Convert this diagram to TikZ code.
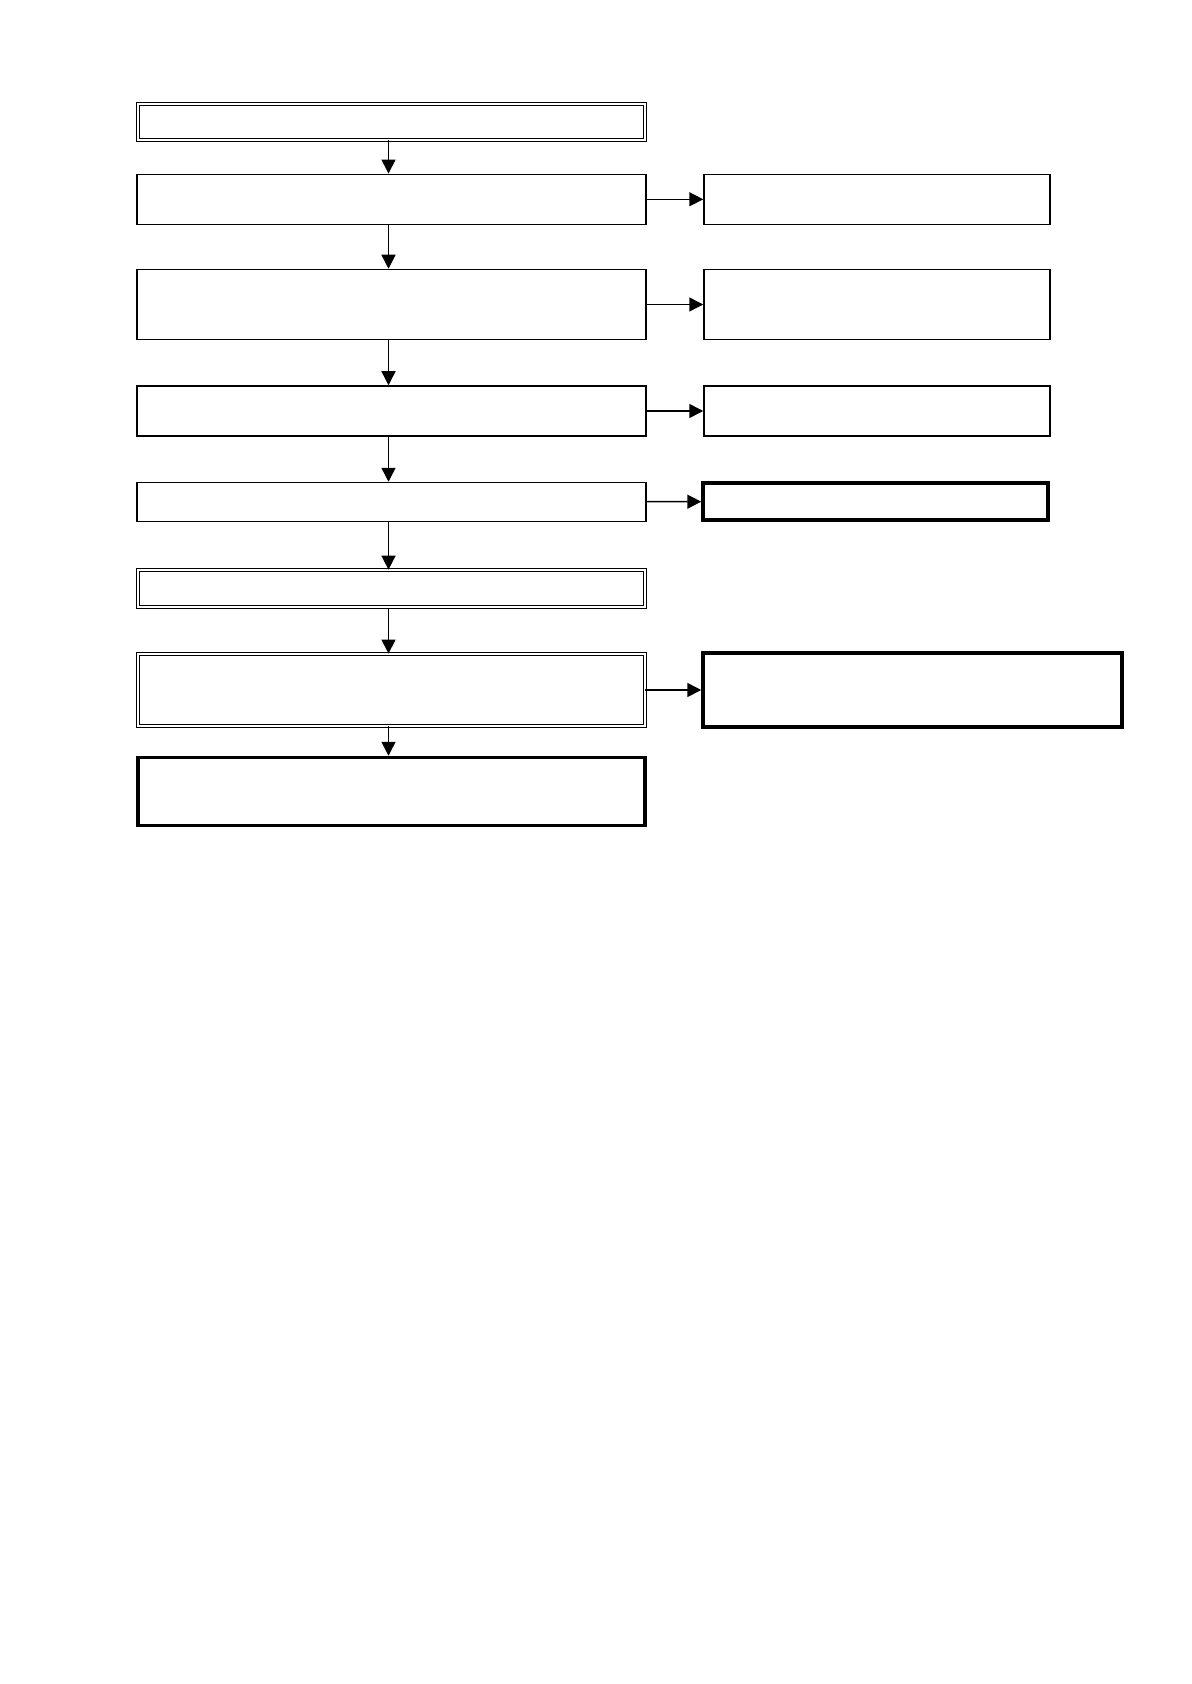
\documentclass[tikz,border=0pt]{standalone}
\usetikzlibrary{arrows.meta}
\begin{document}
\begin{tikzpicture}[x=0.5pt,y=-0.5pt,
  box/.style={draw,line width=0.75pt,inner sep=0pt,minimum width=#1},
  box/.default=254.5pt,
  dbox/.style={draw,double,line width=0.45pt,double distance=1pt,inner sep=0pt,minimum width=253.5pt},
  tbox/.style={draw,line width=1.75pt,inner sep=0pt,minimum width=#1},
  tbox/.default=253.5pt,
  arr/.style={line width=0.75pt,-{Triangle[length=7pt,width=7pt]}}]
\useasboundingbox (0,0) rectangle (1191,1684);
\node[dbox,minimum height=18pt] (start) at (391.5,122) {};
\node[box,minimum height=25pt] (s1) at (391.5,199.3) {};
\node[box,minimum height=35pt] (s2) at (391.5,304.5) {};
\node[box,minimum height=25pt] (s3) at (391.5,411) {};
\node[box,minimum height=19.5pt] (s4) at (391.5,502) {};
\node[dbox,minimum height=18.5pt] (s5) at (391.5,588.6) {};
\node[dbox,minimum height=36pt] (s6) at (391.5,690) {};
\node[tbox,minimum height=34pt] (s7) at (391.5,791.5) {};
\node[box=173pt,minimum height=25pt] (r1) at (877,199.3) {};
\node[box=173pt,minimum height=35pt] (r2) at (877,304.5) {};
\node[box=173pt,minimum height=25pt] (r3) at (877,411) {};
\node[tbox=172.5pt,minimum height=18.5pt] (r4) at (875.5,501.5) {};
\node[tbox=209.5pt,minimum height=37pt] (r5) at (912.5,690) {};
\foreach \a/\b in {start/s1,s1/s2,s2/s3,s3/s4,s4/s5,s5/s6,s6/s7}
  \draw[arr] ([xshift=-1.5pt]\a.south) -- ([xshift=-1.5pt]\b.north);
\foreach \a/\b in {s1/r1,s2/r2,s3/r3,s4/r4,s6/r5}
  \draw[arr] (\a) -- (\b);
\end{tikzpicture}
\end{document}
